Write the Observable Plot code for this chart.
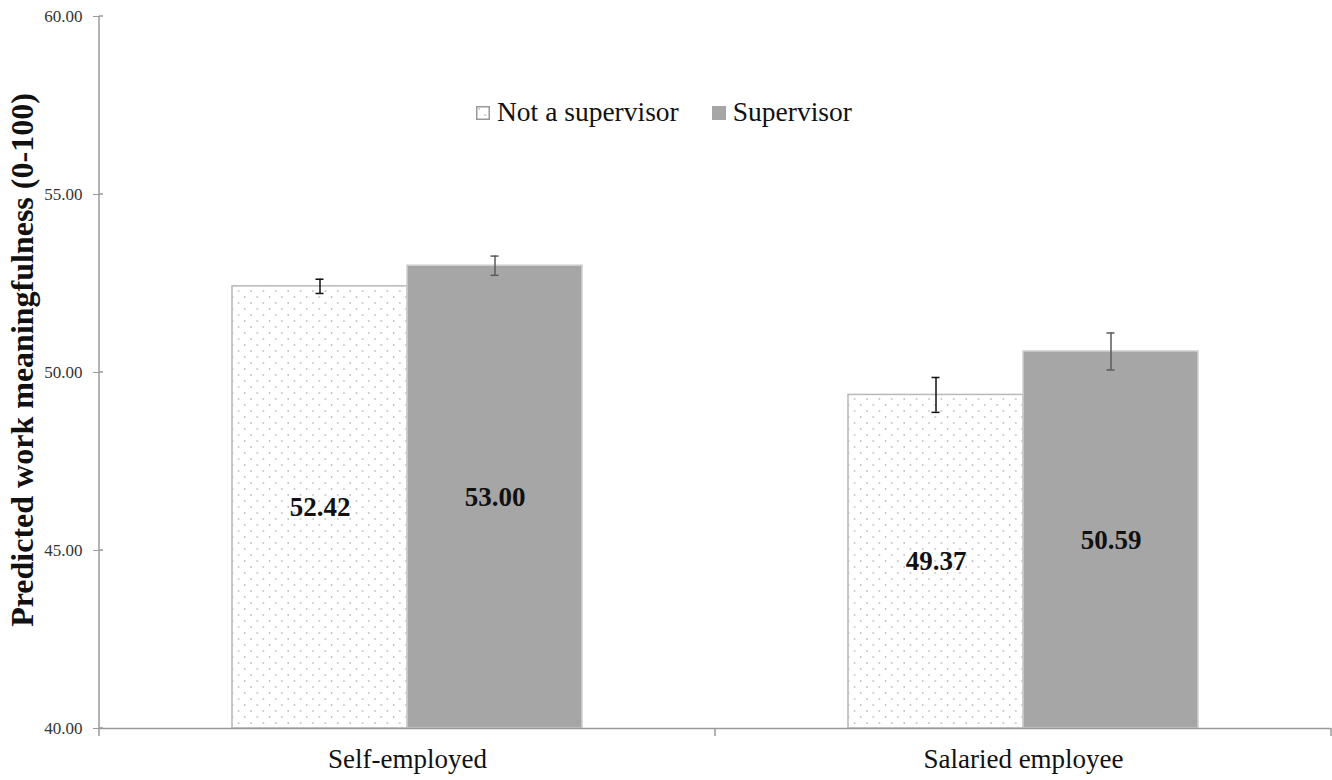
<!DOCTYPE html>
<html><head><meta charset="utf-8">
<script src="https://cdn.jsdelivr.net/npm/d3@7"></script>
<script src="https://cdn.jsdelivr.net/npm/@observablehq/plot@0.6"></script>
<style>
body{margin:0;background:#fff;}
#wrap{position:relative;width:1332px;height:780px;font-family:"Liberation Serif","Times New Roman",serif;}
#wrap svg, #wrap svg text{font-family:"Liberation Serif","Times New Roman",serif !important;}
#legend{position:absolute;top:96px;left:476px;display:flex;align-items:center;font-size:27.5px;color:#111;white-space:nowrap;}
#legend .item{display:flex;align-items:center;margin-right:33px;}
#legend .sw{width:14px;height:14px;box-sizing:border-box;margin-right:7px;margin-top:2px;}
</style></head><body><div id="wrap"></div>
<script>
const categories = ["Self-employed", "Salaried employee"];
const groups = ["Not a supervisor", "Supervisor"];
const notSupervisor = [52.42, 49.37];
const supervisor = [53.00, 50.59];
const errNotSupervisor = [0.20, 0.49];
const errSupervisor = [0.27, 0.52];
const yTicks = [40, 45, 50, 55, 60];
const yLabel = "Predicted work meaningfulness (0-100)";

const yMin = yTicks[0], yMax = yTicks[yTicks.length - 1];
const rows = [];
categories.forEach((c, i) => {
  rows.push({category: c, group: groups[0], value: notSupervisor[i], err: errNotSupervisor[i]});
  rows.push({category: c, group: groups[1], value: supervisor[i], err: errSupervisor[i]});
});
rows.forEach(d => { d.lo = d.value - d.err; d.hi = d.value + d.err; });
const rowsA = rows.filter(d => d.group === groups[0]);
const rowsB = rows.filter(d => d.group === groups[1]);

const serif = "'Liberation Serif', 'Times New Roman', serif";
const chart = Plot.plot({
  width: 1332, height: 780,
  marginLeft: 99, marginRight: 1, marginTop: 16, marginBottom: 52,
  style: {fontFamily: serif, background: "white", color: "#222"},
  fx: {domain: categories, padding: 0, axis: null, label: null},
  x: {domain: groups, paddingInner: 0, paddingOuter: 0.76, axis: null},
  y: {domain: [yMin, yMax], axis: null, label: null},
  marks: [
    Plot.barY(rowsA, {fx: "category", x: "group", y1: yMin, y2: "value", fill: "url(#dots)", stroke: "#b8b8b8", strokeWidth: 1.5}),
    Plot.barY(rowsB, {fx: "category", x: "group", y1: yMin, y2: "value", fill: "#a6a6a6", stroke: "#cfcfcf", strokeWidth: 1.5}),
    Plot.ruleY([yMin], {stroke: "#9a9a9a", strokeWidth: 1.5}),
    Plot.ruleX(rowsA, {fx: "category", x: "group", y1: "lo", y2: "hi", stroke: "#111", strokeWidth: 1.5}),
    Plot.ruleX(rowsB, {fx: "category", x: "group", y1: "lo", y2: "hi", stroke: "#5a5a5a", strokeWidth: 1.5}),
    Plot.tickY(rowsA, {fx: "category", x: "group", y: "lo", stroke: "#111", strokeWidth: 1.5, insetLeft: 83.5, insetRight: 83.5}),
    Plot.tickY(rowsA, {fx: "category", x: "group", y: "hi", stroke: "#111", strokeWidth: 1.5, insetLeft: 83.5, insetRight: 83.5}),
    Plot.tickY(rowsB, {fx: "category", x: "group", y: "lo", stroke: "#5a5a5a", strokeWidth: 1.5, insetLeft: 83.5, insetRight: 83.5}),
    Plot.tickY(rowsB, {fx: "category", x: "group", y: "hi", stroke: "#5a5a5a", strokeWidth: 1.5, insetLeft: 83.5, insetRight: 83.5}),
    Plot.text(rows, {fx: "category", x: "group", y: d => (yMin + d.value) / 2, text: d => d.value.toFixed(2), fontSize: 27, fontWeight: "bold", fill: "#111", fontFamily: serif}),
    Plot.axisY({ticks: yTicks, tickFormat: d3.format(".2f"), tickSize: 6, tickPadding: 11, fontSize: 17, stroke: "#9a9a9a", fill: "#333", fontFamily: serif, label: null}),
    Plot.axisFx({anchor: "bottom", tickSize: 0, tickPadding: 20, fontSize: 27, fill: "#111", fontFamily: serif, label: null})
  ]
});

const wrap = document.getElementById("wrap");
wrap.appendChild(chart);
const svg = d3.select(chart);

const defs = svg.insert("defs", ":first-child");
const pat = defs.append("pattern").attr("id", "dots").attr("patternUnits", "userSpaceOnUse").attr("width", 12.4).attr("height", 12);
pat.append("rect").attr("width", 12.4).attr("height", 12).attr("fill", "white");
pat.append("circle").attr("cx", 3).attr("cy", 3).attr("r", 0.8).attr("fill", "#9a9a9a");
pat.append("circle").attr("cx", 9.2).attr("cy", 9).attr("r", 0.8).attr("fill", "#9a9a9a");

const ys = chart.scale("y"), fxs = chart.scale("fx");
const yTop = ys.apply(yMax), yBot = ys.apply(yMin);
const g = svg.append("g").attr("stroke", "#9a9a9a").attr("stroke-width", 1.5);
const xLeft = fxs.apply(categories[0]);
g.append("line").attr("x1", xLeft).attr("x2", xLeft).attr("y1", yTop).attr("y2", yBot + 8);
yTicks.forEach(t => {
  g.append("line").attr("x1", xLeft).attr("x2", xLeft + 4).attr("y1", ys.apply(t)).attr("y2", ys.apply(t));
});
categories.forEach(c => {
  const xe = fxs.apply(c) + fxs.bandwidth;
  g.append("line").attr("x1", xe).attr("x2", xe).attr("y1", yBot).attr("y2", yBot + 8);
});
svg.append("text")
  .attr("transform", `translate(${xLeft - 66},${(yTop + yBot) / 2 - 12}) rotate(-90)`)
  .attr("text-anchor", "middle")
  .attr("font-size", 32).attr("font-weight", "bold").attr("fill", "#111")
  .text(yLabel);

const legend = document.createElement("div");
legend.id = "legend";
legend.innerHTML = `<div class="item"><svg class="sw" width="14" height="14"><rect x="0.75" y="0.75" width="12.5" height="12.5" fill="url(#dots)" stroke="#999" stroke-width="1.5"/></svg><span>${groups[0]}</span></div>` +
  `<div class="item"><span class="sw" style="background:#a6a6a6"></span><span>${groups[1]}</span></div>`;
wrap.appendChild(legend);
</script>
</body></html>
